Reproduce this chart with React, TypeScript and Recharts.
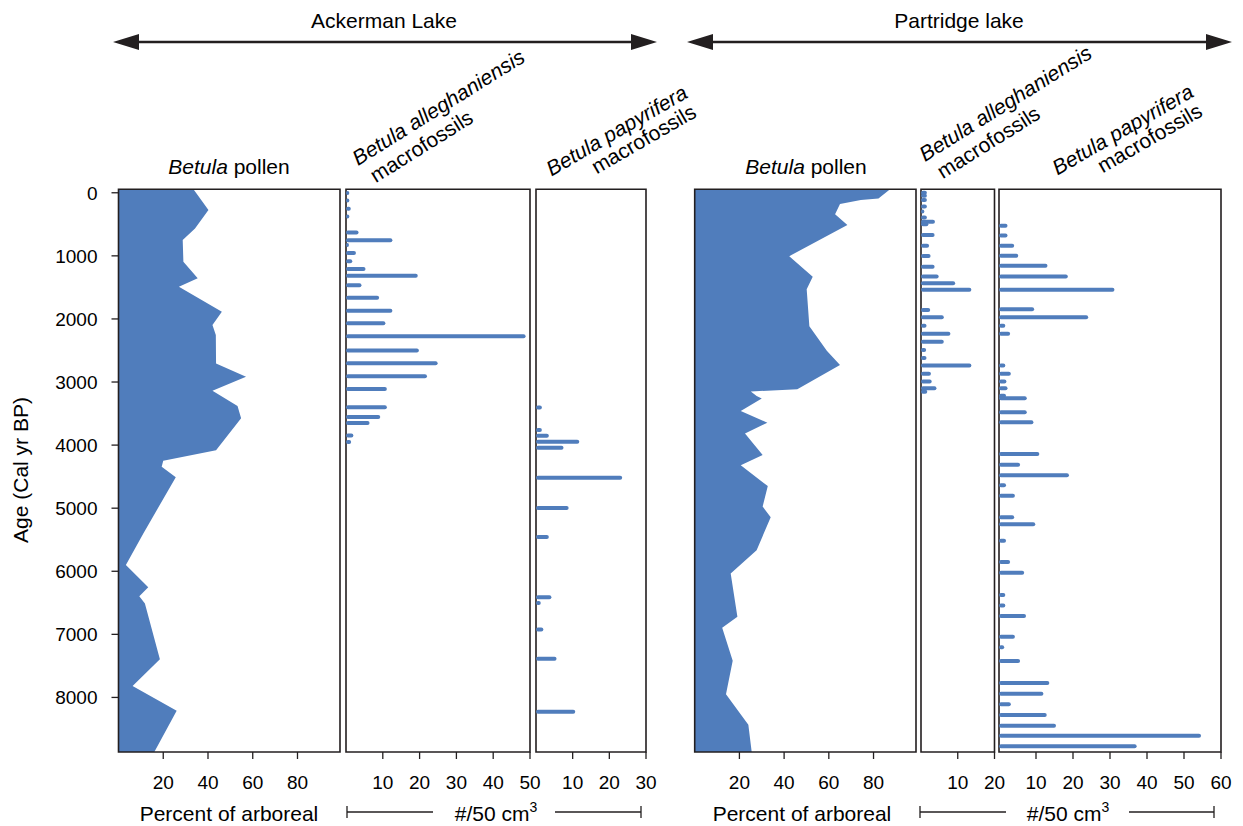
import React from "react";
import { ComposedChart, Area, Bar, XAxis, YAxis, ReferenceArea } from "recharts";

const W = 1243;
const H = 826;
const TOP = 189.3;
const BOTTOM = 752;
const BLUE = "#507dbc";
const INK = "#231f20";
const FONT = "'Liberation Sans', Arial, Helvetica, sans-serif";

const AGE_DOMAIN = [-55, 8865];
const AGE_TICKS = [0, 1000, 2000, 3000, 4000, 5000, 6000, 7000, 8000];

// Ackerman Lake – Betula pollen (% of arboreal)
const ackermanPollenAge = [-55, 275, 565, 750, 1095, 1355, 1490, 1885, 2095, 2255, 2705, 2915, 3140, 3380, 3575, 4080, 4250, 4345, 4510, 5400, 5900, 6255, 6395, 6510, 7395, 7820, 8210, 8865];
const ackermanPollenPct = [33.5, 40.2, 34.2, 28.7, 29.0, 35.4, 27.0, 46.2, 42.0, 43.5, 43.6, 57.0, 42.0, 53.2, 54.8, 43.6, 20.0, 19.3, 25.6, 11.1, 3.3, 13.3, 9.3, 11.8, 18.5, 6.3, 26.0, 16.0];

// Ackerman Lake – B. alleghaniensis macrofossils (#/50 cm3)
const ackermanAlleghAge = [10, 130, 260, 380, 635, 760, 835, 960, 1090, 1215, 1320, 1470, 1670, 1875, 2075, 2280, 2505, 2710, 2915, 3115, 3405, 3560, 3655, 3855, 3955];
const ackermanAlleghCount = [0.9, 0.9, 1.3, 0.9, 3.4, 12.6, 0.8, 2.7, 1.7, 5.3, 19.5, 4.2, 9.0, 12.6, 10.7, 48.8, 19.8, 24.9, 22.0, 11.1, 11.1, 9.3, 6.4, 2.0, 1.4];

// Ackerman Lake – B. papyrifera macrofossils
const ackermanPapyrAge = [3400, 3760, 3850, 3945, 4040, 4515, 4995, 5455, 6410, 6500, 6920, 7385, 8225];
const ackermanPapyrCount = [1.6, 1.6, 3.5, 11.8, 7.5, 23.5, 8.9, 3.5, 4.2, 1.3, 2.0, 5.6, 10.7];

// Partridge lake – Betula pollen
const partridgePollenAge = [-55, 90, 115, 180, 340, 510, 1005, 1330, 1530, 2115, 2505, 2730, 3115, 3150, 3220, 3260, 3460, 3645, 3815, 4155, 4320, 4650, 4975, 5145, 5665, 6035, 6720, 6895, 7420, 7950, 8435, 8865];
const partridgePollenPct = [87.4, 82.2, 74.3, 65.0, 62.8, 68.3, 42.3, 52.8, 50.1, 51.3, 59.1, 65.0, 45.9, 25.1, 27.7, 30.0, 20.6, 32.5, 22.5, 30.4, 20.6, 32.7, 30.4, 34.0, 27.7, 16.1, 19.1, 12.3, 17.0, 14.0, 24.0, 25.5];

// Partridge lake – B. alleghaniensis macrofossils
const partridgeAlleghAge = [0, 50, 115, 220, 300, 395, 460, 500, 670, 840, 1005, 1175, 1330, 1435, 1540, 1860, 1975, 2110, 2235, 2365, 2495, 2620, 2740, 2870, 2995, 3100, 3155];
const partridgeAlleghCount = [1.6, 1.6, 1.6, 1.6, 0.9, 1.6, 3.8, 2.0, 3.7, 2.2, 2.6, 3.7, 4.8, 9.3, 13.7, 2.5, 6.2, 1.5, 8.0, 6.2, 1.4, 1.5, 13.7, 2.7, 2.9, 4.2, 1.7];

// Partridge lake – B. papyrifera macrofossils
const partridgePapyrAge = [525, 680, 840, 1000, 1160, 1330, 1540, 1850, 1975, 2110, 2235, 2740, 2870, 2995, 3100, 3220, 3260, 3480, 3640, 4145, 4315, 4480, 4640, 4805, 5145, 5255, 5520, 5855, 6025, 6380, 6545, 6710, 7040, 7205, 7425, 7775, 7945, 8110, 8280, 8450, 8610, 8775];
const partridgePapyrCount = [2.3, 2.3, 4.1, 5.2, 13.1, 18.6, 31.2, 9.5, 24.1, 1.7, 3.0, 1.7, 3.2, 2.0, 2.3, 1.9, 7.5, 7.5, 9.3, 10.9, 5.7, 18.9, 1.9, 4.3, 4.1, 9.8, 1.9, 3.0, 6.8, 1.7, 1.7, 7.3, 4.3, 1.4, 5.7, 13.6, 12.0, 3.2, 12.9, 15.4, 54.6, 37.2];

const zip = (ages: number[], vals: number[]) => ages.map((age, i) => ({ age, v: vals[i] }));

const tickStyle = { fill: "#000", fontSize: 19, fontFamily: FONT };

// bars are drawn as 4px strips with round ends, centred on the bar's age
const StripShape = (props: any) => {
  const { x, y, width, height } = props;
  if (x == null || y == null) return null;
  const cy = y + height / 2;
  return <rect x={x} y={cy - 2} width={Math.max(width, 0)} height={4} rx={2} ry={2} fill={BLUE} />;
};

interface PanelProps {
  data: { age: number; v: number }[];
  kind: "area" | "bar";
  x1: number;
  x2: number;
  domain: [number, number];
  ticks: number[];
  showAge?: boolean;
}

const Panel: React.FC<PanelProps> = ({ data, kind, x1, x2, domain, ticks, showAge }) => {
  const yW = showAge ? 100 : 0;
  return (
    <div style={{ position: "absolute", left: 0, top: 0 }}>
      <ComposedChart
        width={W}
        height={H}
        layout="vertical"
        data={data}
        margin={{ top: TOP, bottom: H - BOTTOM - 40, left: x1 - yW, right: W - x2 }}
      >
        <XAxis
          type="number"
          domain={domain}
          ticks={ticks}
          interval={0}
          height={40}
          axisLine={false}
          tickSize={7}
          tickMargin={17}
          tickLine={{ stroke: INK, strokeWidth: 1.3 }}
          tick={tickStyle}
        />
        <YAxis
          type="number"
          dataKey="age"
          domain={AGE_DOMAIN}
          ticks={AGE_TICKS}
          interval={0}
          hide={!showAge}
          width={yW}
          axisLine={false}
          tickSize={7}
          tickMargin={14}
          tickLine={{ stroke: INK, strokeWidth: 1.3 }}
          tick={tickStyle}
        />
        {kind === "area" ? (
          <Area
            dataKey="v"
            type="linear"
            fill={BLUE}
            fillOpacity={1}
            stroke="none"
            isAnimationActive={false}
          />
        ) : (
          <Bar dataKey="v" fill={BLUE} barSize={4} shape={StripShape} isAnimationActive={false} />
        )}
        <ReferenceArea
          x1={domain[0]}
          x2={domain[1]}
          y1={AGE_DOMAIN[0]}
          y2={AGE_DOMAIN[1]}
          fill="none"
          fillOpacity={0}
          stroke={INK}
          strokeWidth={1.6}
          ifOverflow="visible"
        />
      </ComposedChart>
    </div>
  );
};

const Arrow: React.FC<{ xa: number; xb: number; y: number }> = ({ xa, xb, y }) => (
  <g>
    <line x1={xa + 20} x2={xb - 20} y1={y} y2={y} stroke={INK} strokeWidth={2.6} />
    <polygon points={`${xa},${y} ${xa + 26},${y - 8} ${xa + 26},${y + 8}`} fill={INK} />
    <polygon points={`${xb},${y} ${xb - 26},${y - 8} ${xb - 26},${y + 8}`} fill={INK} />
  </g>
);

const Bracket: React.FC<{ xa: number; xb: number; xc: number; xd: number; cx: number }> = ({ xa, xb, xc, xd, cx }) => (
  <g stroke={INK} strokeWidth={1.3}>
    <line x1={xa} x2={xb} y1={812} y2={812} />
    <line x1={xa} x2={xa} y1={806} y2={818} />
    <line x1={xc} x2={xd} y1={812} y2={812} />
    <line x1={xd} x2={xd} y1={806} y2={818} />
    <text x={cx} y={821} textAnchor="middle" stroke="none" fill="#000" fontSize={21} fontFamily={FONT}>
      #/50 cm<tspan dy={-9} fontSize={14}>3</tspan>
    </text>
  </g>
);

const Labels: React.FC = () => (
  <svg width={W} height={H} style={{ position: "absolute", left: 0, top: 0 }} fontFamily={FONT} fill="#000">
    <text x={384} y={28} textAnchor="middle" fontSize={21}>Ackerman Lake</text>
    <text x={959} y={28} textAnchor="middle" fontSize={21}>Partridge lake</text>
    <Arrow xa={113} xb={657} y={42} />
    <Arrow xa={687} xb={1232} y={42} />

    <text x={229} y={174} textAnchor="middle" fontSize={21}>
      <tspan fontStyle="italic">Betula</tspan> pollen
    </text>
    <text x={806} y={174} textAnchor="middle" fontSize={21}>
      <tspan fontStyle="italic">Betula</tspan> pollen
    </text>

    <g transform="translate(358,166) rotate(-32)" fontSize={21}>
      <text x={0} y={0} fontStyle="italic">Betula alleghaniensis</text>
      <text x={6} y={24}>macrofossils</text>
    </g>
    <g transform="translate(689,97) rotate(-30)" fontSize={21}>
      <text x={0} y={0} textAnchor="end" fontStyle="italic">Betula papyrifera</text>
      <text x={-2} y={21} textAnchor="end">macrofossils</text>
    </g>
    <g transform="translate(925,162) rotate(-32)" fontSize={21}>
      <text x={0} y={0} fontStyle="italic">Betula alleghaniensis</text>
      <text x={6} y={24}>macrofossils</text>
    </g>
    <g transform="translate(1195,96) rotate(-30)" fontSize={21}>
      <text x={0} y={0} textAnchor="end" fontStyle="italic">Betula papyrifera</text>
      <text x={-2} y={21} textAnchor="end">macrofossils</text>
    </g>

    <text transform="translate(28,470) rotate(-90)" textAnchor="middle" fontSize={21}>Age (Cal yr BP)</text>

    <text x={229} y={821} textAnchor="middle" fontSize={21}>Percent of arboreal</text>
    <text x={802} y={821} textAnchor="middle" fontSize={21}>Percent of arboreal</text>
    <Bracket xa={347} xb={433} xc={555} xd={641} cx={496} />
    <Bracket xa={920} xb={1006} xc={1129} xd={1214} cx={1068} />
  </svg>
);

export default function App() {
  return (
    <div style={{ position: "absolute", left: 0, top: 0, width: W, height: H, background: "#fff" }}>
      <Panel data={zip(ackermanPollenAge, ackermanPollenPct)} kind="area" x1={118.5} x2={340} domain={[0, 99]} ticks={[20, 40, 60, 80]} showAge />
      <Panel data={zip(ackermanAlleghAge, ackermanAlleghCount)} kind="bar" x1={346} x2={530} domain={[0, 50]} ticks={[10, 20, 30, 40, 50]} />
      <Panel data={zip(ackermanPapyrAge, ackermanPapyrCount)} kind="bar" x1={536} x2={646} domain={[0, 30]} ticks={[10, 20, 30]} />
      <Panel data={zip(partridgePollenAge, partridgePollenPct)} kind="area" x1={694.7} x2={916} domain={[0, 99]} ticks={[20, 40, 60, 80]} />
      <Panel data={zip(partridgeAlleghAge, partridgeAlleghCount)} kind="bar" x1={921} x2={994.5} domain={[0, 20]} ticks={[10, 20]} />
      <Panel data={zip(partridgePapyrAge, partridgePapyrCount)} kind="bar" x1={999} x2={1221} domain={[0, 60]} ticks={[10, 20, 30, 40, 50, 60]} />
      <Labels />
    </div>
  );
}
